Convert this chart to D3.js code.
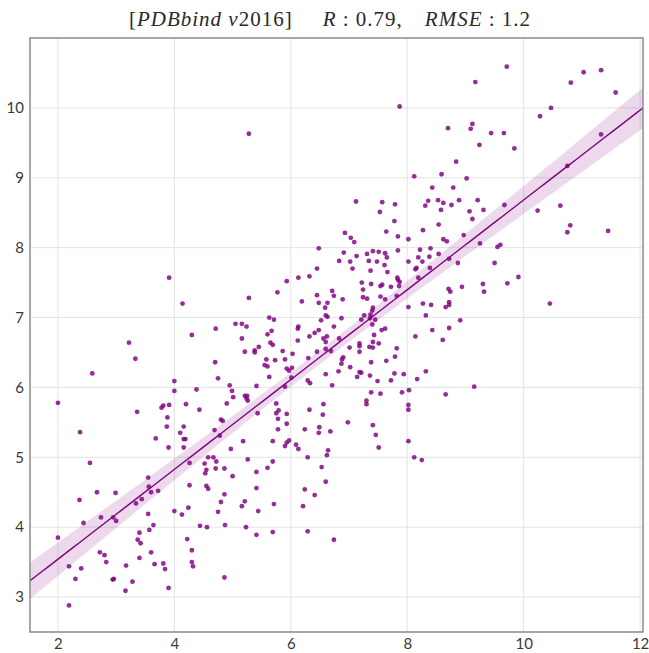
<!DOCTYPE html>
<html>
<head>
<meta charset="utf-8">
<script src="https://cdn.jsdelivr.net/npm/d3@7"></script>
<style>
  html, body { margin: 0; padding: 0; background: #fff; }
  #chart { width: 649px; height: 653px; }
</style>
</head>
<body>
<div id="chart"></div>
<script>
/* Scatter of experimental vs predicted affinity, with OLS fit + 95% band */

// title pieces; gap = extra space (px) before the piece
const TITLE_PARTS = [
  { t: '[', it: false, gap: 0 }, { t: 'PDBbind v', it: true, gap: 0 }, { t: '2016]', it: false, gap: 0 },
  { t: 'R', it: true, gap: 30 }, { t: ' : 0.79,', it: false, gap: 0 },
  { t: 'RMSE', it: true, gap: 22 }, { t: ' : 1.2', it: false, gap: 0 }
];

const xTicks = [2, 4, 6, 8, 10, 12];
const yTicks = [3, 4, 5, 6, 7, 8, 9, 10];

const lowLeft = [
  [3.56,4.58],[4.26,4.60],[4.55,4.59],[4.58,4.55],[2.67,4.50],[2.99,4.49],[2.37,4.39],[3.60,4.50],
  [3.72,4.52],[3.44,4.40],[3.34,4.34],[4.86,4.47],[4.80,4.36],[4.00,4.23],[4.24,4.28],[4.13,4.18],
  [4.75,4.22],[2.74,4.14],[2.44,4.06],[2.95,4.14],[3.00,4.09],[3.55,4.19],[3.64,4.03],[3.57,3.96],
  [3.40,3.92],[4.44,4.02],[4.56,4.00],[4.87,4.03],[2.00,3.85],[4.22,3.83],[3.37,3.82],[3.42,3.77],
  [4.30,3.67],[2.72,3.64],[2.80,3.60],[3.60,3.64],[3.40,3.56],[2.83,3.50],[2.19,3.44],[2.40,3.41],
  [3.17,3.45],[3.66,3.47],[3.81,3.48],[3.84,3.40],[4.30,3.50],[4.32,3.44],[2.30,3.26],[2.94,3.25],
  [2.96,3.26],[3.28,3.22],[4.86,3.28],[3.16,3.09],[3.90,3.13],[2.19,2.88]
];
const lowMid = [
  [5.41,4.56],[6.24,4.54],[6.41,4.46],[5.21,4.37],[5.16,4.30],[5.71,4.33],[5.44,4.23],[6.21,4.30],
  [5.23,4.00],[5.41,3.89],[5.69,3.93],[6.29,3.94],[6.74,3.82]
];
const midLeft = [
  [3.22,6.64],[3.33,6.41],[2.59,6.20],[4.70,6.36],[4.75,6.13],[4.00,6.09],[4.00,5.95],[4.38,5.97],
  [4.95,6.03],[4.99,5.95],[5.01,5.86],[2.00,5.78],[4.90,5.77],[3.91,5.75],[3.81,5.74],[3.78,5.71],
  [4.20,5.76],[3.36,5.65],[4.43,5.68],[3.88,5.57],[4.80,5.54],[4.83,5.52],[2.38,5.36],[3.87,5.44],
  [4.16,5.44],[4.69,5.39],[4.10,5.35],[3.68,5.27],[4.16,5.26],[4.19,5.26],[4.78,5.31],[3.90,5.14],
  [4.16,5.14],[4.97,5.12],[4.58,5.00],[4.67,5.00],[4.72,4.94],[4.52,4.91],[4.26,4.92],[2.55,4.92],
  [4.71,4.84],[4.55,4.82],[4.86,4.84],[4.53,4.77],[5.00,4.73],[3.55,4.71],
  [3.91,7.57],[4.14,7.20],[4.71,6.84],[4.30,6.75]
];
const upperMid = [
  [7.12,8.66],[7.57,8.65],[7.79,8.62],[7.53,8.51],[8.43,8.86],[8.36,8.67],[8.53,8.68],[8.31,8.60],
  [8.58,8.54],[7.78,8.38],[8.54,8.33],[6.93,8.21],[7.03,8.14],[7.09,8.08],[7.64,8.23],[7.84,8.16],
  [8.27,8.25],[8.02,8.12],[6.48,7.99],[6.91,7.93],[7.31,7.91],[7.41,7.95],[7.51,7.94],[7.62,7.92],
  [7.65,7.86],[7.84,7.96],[8.22,7.97],[8.40,7.99],[8.54,7.91],[7.13,7.88],[6.83,7.81],[7.02,7.80],
  [7.34,7.81],[7.48,7.80],[7.61,7.75],[8.02,7.80],[8.19,7.86],[8.26,7.80],[8.38,7.87],[7.06,7.70],
  [6.45,7.70],[7.37,7.67],[7.66,7.65],[8.16,7.71],[8.14,7.69],[8.39,7.71],[6.13,7.57],[6.32,7.59],
  [5.93,7.52],[7.83,7.57],[7.84,7.54],[7.87,7.51],[8.19,7.57],[7.22,7.50],[7.38,7.48],[7.57,7.47],
  [7.54,7.45],[7.72,7.44],[7.86,7.45],[6.71,7.38],[7.24,7.40],[5.77,7.36],[5.28,7.28],[6.45,7.32],
  [6.74,7.31],[7.24,7.29],[7.31,7.27],[6.89,7.26],[7.54,7.30],[7.62,7.26],[7.82,7.31],[8.02,7.15],
  [8.27,7.20],[8.41,7.18],[8.32,7.03],[8.43,6.82],[6.19,7.23],[6.48,7.21],[6.63,7.21],[6.59,7.14],
  [7.41,7.14],[7.40,7.10],[6.60,7.03],[6.63,7.01],[6.52,6.96],[6.87,6.99],[7.26,7.03],[7.37,7.04],
  [7.21,6.97],[7.45,6.97],[7.36,6.99],[7.40,6.90],[6.74,6.87],[6.41,6.78],[6.32,6.73],[6.48,6.82],
  [6.62,6.73],[6.13,6.87],[6.12,6.84],[5.63,7.00],[5.71,6.97],[5.60,6.76],[5.67,6.81],[5.05,6.91],
  [5.16,6.91],[5.24,6.87],[7.43,6.75],[7.56,6.82],[7.62,6.84],[8.14,6.73],
  [7.87,10.02],[5.28,9.63],[8.12,9.02]
];
const upperRight = [
  [9.71,10.59],[9.17,10.37],[11.03,10.51],[11.33,10.54],[10.81,10.36],[11.58,10.22],[10.47,10.00],
  [10.28,9.88],[8.70,9.71],[9.09,9.70],[9.12,9.77],[9.44,9.64],[9.66,9.64],[9.24,9.47],[9.84,9.42],
  [11.33,9.62],[8.84,9.23],[8.59,9.05],[9.02,8.99],[8.79,8.86],[10.75,9.17],
  [8.62,8.64],[8.76,8.61],[8.89,8.68],[9.21,8.68],[9.07,8.52],[9.31,8.54],[9.67,8.61],[9.12,8.41],
  [10.24,8.53],[10.63,8.60],[10.80,8.32],[10.75,8.22],[11.45,8.24],[8.62,8.12],[8.68,8.09],
  [8.97,8.18],[9.25,8.06],[9.55,8.01],[9.60,8.04],[8.72,7.84],[8.87,7.78],[9.50,7.78],[9.91,7.58],
  [9.72,7.49],[9.30,7.48],[9.32,7.37],[8.94,7.44],[8.71,7.41],[8.74,7.37],[8.72,7.22],[8.72,7.18],
  [8.66,7.15],[10.45,7.20],[8.91,6.96],[8.72,6.85],
  [8.61,6.68],[9.15,6.01],[8.66,5.90]
];
const center = [
  [5.16,6.70],[6.12,6.67],[6.56,6.70],[6.60,6.65],[6.83,6.70],[5.21,6.51],[5.38,6.53],[5.38,6.50],
  [5.45,6.58],[5.65,6.64],[5.69,6.61],[5.86,6.52],[6.03,6.48],[6.45,6.51],[6.60,6.55],[6.69,6.52],
  [7.01,6.57],[7.18,6.63],[7.18,6.59],[7.18,6.51],[7.35,6.58],[7.41,6.57],[7.41,6.65],[7.51,6.63],
  [7.82,6.56],[7.79,6.44],[5.58,6.40],[5.73,6.39],[5.90,6.40],[6.30,6.42],[6.90,6.43],[6.88,6.40],
  [6.87,6.34],[7.38,6.36],[7.64,6.38],[5.55,6.32],[5.60,6.30],[5.93,6.27],[5.97,6.24],[6.02,6.28],
  [7.02,6.29],[6.82,6.23],[7.18,6.22],[7.21,6.21],[5.63,6.15],[6.01,6.14],[6.60,6.19],[7.14,6.15],
  [7.36,6.17],[7.78,6.20],[7.94,6.19],[8.32,6.23],[6.29,6.10],[6.33,6.06],[7.49,6.09],[7.72,6.10],
  [8.17,6.12],[5.41,6.02],[5.90,6.01],[6.71,6.03],[7.38,5.93],[7.54,5.91],[7.91,5.93],[8.03,5.96],
  [5.21,5.88],[5.25,5.88],[5.24,5.84],[5.26,5.81],[7.30,5.81],[7.30,5.76],[8.02,5.75],[8.02,5.68],
  [5.75,5.77],[6.56,5.76],[6.32,5.68],[5.43,5.63],[5.75,5.63],[5.79,5.67],[5.93,5.62],[6.55,5.61],
  [5.78,5.55],[5.93,5.48],[6.98,5.50],[7.41,5.46],[5.78,5.40],[6.24,5.40],[6.49,5.43],[6.48,5.35],
  [6.68,5.37],[7.46,5.32],[5.18,5.23],[5.69,5.23],[5.93,5.21],[5.97,5.24],[5.90,5.16],[6.09,5.18],
  [6.13,5.12],[6.64,5.10],[7.51,5.14],[8.02,5.23],[6.29,5.00],[6.62,5.03],[8.12,5.00],[8.25,4.96],
  [5.26,4.97],[5.69,4.94],[5.60,4.85],[5.41,4.79],[6.53,4.86],[6.60,4.65]
];

const X_DOMAIN = [1.52, 12.05];
const Y_DOMAIN = [2.5, 11.0];

(function () {
  const points = [].concat(lowLeft, lowMid, midLeft, upperMid, upperRight, center);

  const W = 649, H = 653;
  const margin = { top: 38, right: 6, bottom: 21, left: 30 };
  const width = W - margin.left - margin.right;
  const height = H - margin.top - margin.bottom;
  const PURPLE = '#800080';

  const svg = d3.select('#chart').append('svg')
    .attr('width', W).attr('height', H)
    .attr('viewBox', `0 0 ${W} ${H}`);

  const g = svg.append('g')
    .attr('transform', `translate(${margin.left},${margin.top})`);

  const x = d3.scaleLinear().domain(X_DOMAIN).range([0, width]);
  const y = d3.scaleLinear().domain(Y_DOMAIN).range([height, 0]);

  // grid
  g.append('g').selectAll('line').data(xTicks).enter().append('line')
    .attr('x1', d => x(d)).attr('x2', d => x(d))
    .attr('y1', 0).attr('y2', height)
    .attr('stroke', '#e3e3e3').attr('stroke-width', 1);
  g.append('g').selectAll('line').data(yTicks).enter().append('line')
    .attr('x1', 0).attr('x2', width)
    .attr('y1', d => y(d)).attr('y2', d => y(d))
    .attr('stroke', '#e3e3e3').attr('stroke-width', 1);

  // least squares fit, like seaborn regplot
  const n = points.length;
  const mx = d3.mean(points, d => d[0]);
  const my = d3.mean(points, d => d[1]);
  const sxx = d3.sum(points, d => (d[0] - mx) ** 2);
  const sxy = d3.sum(points, d => (d[0] - mx) * (d[1] - my));
  const slope = sxy / sxx;
  const icpt = my - slope * mx;
  const s = Math.sqrt(d3.sum(points, d => (d[1] - icpt - slope * d[0]) ** 2) / (n - 2));
  const tval = 1.968;

  const grid = d3.range(0, 101).map(i => X_DOMAIN[0] + (X_DOMAIN[1] - X_DOMAIN[0]) * i / 100);
  const fit = grid.map(v => {
    const yh = icpt + slope * v;
    const ci = tval * s * Math.sqrt(1 / n + (v - mx) ** 2 / sxx);
    return { x: v, y: yh, lo: yh - ci, hi: yh + ci };
  });

  svg.append('clipPath').attr('id', 'plot-clip')
    .append('rect').attr('width', width).attr('height', height);

  const fitLayer = g.append('g').attr('clip-path', 'url(#plot-clip)');

  fitLayer.append('path')
    .datum(fit)
    .attr('fill', PURPLE).attr('fill-opacity', 0.15)
    .attr('d', d3.area().x(d => x(d.x)).y0(d => y(d.lo)).y1(d => y(d.hi)));

  fitLayer.selectAll('circle')
    .data(points).enter().append('circle')
    .attr('cx', d => x(d[0])).attr('cy', d => y(d[1]))
    .attr('r', 2.4)
    .attr('fill', PURPLE).attr('fill-opacity', 0.82);

  fitLayer.append('path')
    .datum(fit)
    .attr('fill', 'none').attr('stroke', PURPLE).attr('stroke-width', 1.4)
    .attr('d', d3.line().x(d => x(d.x)).y(d => y(d.y)));

  // frame
  g.append('rect')
    .attr('width', width).attr('height', height)
    .attr('fill', 'none').attr('stroke', '#8a8a8a').attr('stroke-width', 1.5);

  // tick labels (no tick marks in the reference)
  const xAxis = g.append('g')
    .attr('transform', `translate(0,${height})`)
    .call(d3.axisBottom(x).tickValues(xTicks).tickSize(0).tickPadding(6).tickFormat(d3.format('d')));
  const yAxis = g.append('g')
    .call(d3.axisLeft(y).tickValues(yTicks).tickSize(0).tickPadding(6).tickFormat(d3.format('d')));
  [xAxis, yAxis].forEach(a => {
    a.select('.domain').remove();
    a.selectAll('text')
      .style('font-family', 'Lato, "DejaVu Sans", sans-serif')
      .style('font-size', '15px')
      .style('fill', '#3a3a3a');
  });

  // title
  const title = svg.append('text')
    .attr('x', 330).attr('y', 26)
    .attr('text-anchor', 'middle')
    .style('font-family', '"Liberation Serif", serif')
    .style('font-size', '21px')
    .style('letter-spacing', '1px')
    .style('fill', '#2a2a2a');
  TITLE_PARTS.forEach(p => {
    title.append('tspan')
      .attr('dx', p.gap)
      .style('font-style', p.it ? 'italic' : 'normal')
      .text(p.t);
  });
})();
</script>
</body>
</html>
